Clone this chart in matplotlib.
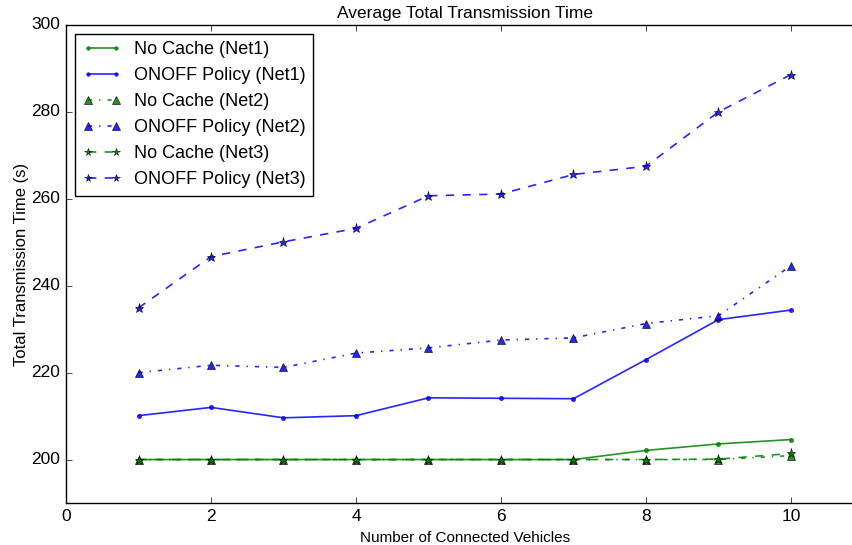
import matplotlib
matplotlib.use("Agg")
import matplotlib.pyplot as plt

plt.style.use("classic")
plt.rcParams["font.family"] = ["Liberation Sans", "DejaVu Sans"]

vehicles = [1, 2, 3, 4, 5, 6, 7, 8, 9, 10]

nocache_net1 = [200.0, 200.0, 200.0, 200.0, 200.0, 200.0, 200.0, 202.1, 203.6, 204.6]
onoff_net1 = [210.1, 212.0, 209.6, 210.1, 214.2, 214.1, 214.0, 223.0, 232.2, 234.4]
nocache_net2 = [200.0, 200.0, 200.0, 200.0, 200.0, 200.0, 200.0, 200.0, 200.0, 200.9]
onoff_net2 = [220.0, 221.7, 221.2, 224.5, 225.7, 227.5, 228.0, 231.3, 233.1, 244.6]
nocache_net3 = [200.0, 200.0, 200.0, 200.0, 200.0, 200.0, 200.0, 200.0, 200.1, 201.4]
onoff_net3 = [234.9, 246.7, 250.1, 253.2, 260.7, 261.1, 265.6, 267.5, 280.0, 288.6]

x_ticks = [0, 2, 4, 6, 8, 10]
y_ticks = [200, 220, 240, 260, 280, 300]

green = (0.0, 0.5, 0.0)
blue = (0.0, 0.0, 1.0)

fig = plt.figure(figsize=(8.52, 5.45), dpi=100, facecolor="white")
# axes runs past the right figure edge (x limit 11, figure cut at ~10.85)
left = 66 / 852
width = 11 * 72.5 / 852
bottom = 1 - 503 / 545
height = (503 - 25) / 545
ax = fig.add_axes([left, bottom, width, height])

common = dict(lw=1.2, alpha=0.85)
ax.plot(vehicles, nocache_net1, color=green, linestyle="-", marker=".",
        markersize=6, label="No Cache (Net1)", **common)
ax.plot(vehicles, onoff_net1, color=blue, linestyle="-", marker=".",
        markersize=6, label="ONOFF Policy (Net1)", **common)
ax.plot(vehicles, nocache_net2, color=green, linestyle="-.", marker="^",
        markersize=6, markeredgecolor="k", markeredgewidth=0.5,
        label="No Cache (Net2)", **common)
ax.plot(vehicles, onoff_net2, color=blue, linestyle="-.", marker="^",
        markersize=6, markeredgecolor="k", markeredgewidth=0.5,
        label="ONOFF Policy (Net2)", **common)
ax.plot(vehicles, nocache_net3, color=green, linestyle="--", marker="*",
        markersize=6.5, markeredgecolor="k", markeredgewidth=0.5,
        label="No Cache (Net3)", **common)
ax.plot(vehicles, onoff_net3, color=blue, linestyle="--", marker="*",
        markersize=6.5, markeredgecolor="k", markeredgewidth=0.5,
        label="ONOFF Policy (Net3)", **common)

ax.set_xlim(0, 11)
ax.set_ylim(190, 300)
ax.set_xticks(x_ticks)
ax.set_yticks(y_ticks)
ax.tick_params(labelsize=12.5)

ax.set_title("Average Total Transmission Time", fontsize=12.5)
ax.set_xlabel("Number of Connected Vehicles", fontsize=11)
ax.set_ylabel("Total Transmission Time (s)", fontsize=12, labelpad=2)

leg = ax.legend(loc="upper left", fontsize=13, numpoints=2,
                handlelength=2.15, handletextpad=0.7, labelspacing=0.5,
                borderaxespad=0.5, markerscale=0.85)
leg.get_frame().set_linewidth(1.0)

fig.savefig("out.png", dpi=100, facecolor="white")
